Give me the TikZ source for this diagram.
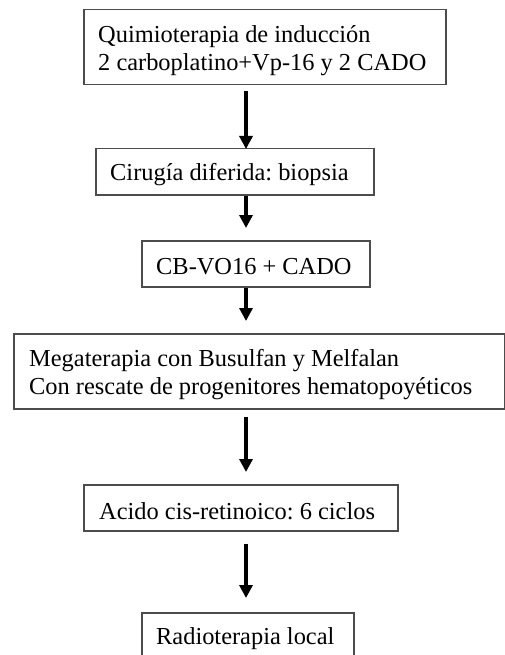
\documentclass[tikz,border=0pt]{standalone}
\usepackage{fontspec}
\setmainfont{Liberation Serif}
\usetikzlibrary{arrows.meta}
\frenchspacing
\begin{document}
\begin{tikzpicture}[x=1pt,y=-1pt,
  stepbox/.style={draw=black!70, line width=1.5pt, anchor=north west, inner sep=0pt},
  steptext/.style={anchor=west, inner sep=0pt, align=left, yshift=-3pt,
    font=\fontsize{24.4pt}{28pt}\selectfont},
  arr/.style={line width=3.6pt, -{Triangle[width=13pt,length=13pt]}}
]
\clip (0,0) rectangle (505,655);
\useasboundingbox (0,0) rectangle (505,655);
\fill[white] (0,0) rectangle (505,655);
\coordinate (ax) at (246,0);
\node[stepbox, minimum width=362pt, minimum height=75pt] (b1) at (83,9) {};
\node[steptext] (t1) at ([xshift=15pt]b1.west) {Quimioterapia de inducción\\2 carboplatino+Vp-16 y 2 CADO};
\node[stepbox, minimum width=278pt, minimum height=46pt] (b2) at (95,148) {};
\node[steptext] (t2) at ([xshift=15pt]b2.west) {Cirugía diferida: biopsia};
\node[stepbox, minimum width=228pt, minimum height=46pt] (b3) at (141,240) {};
\node[steptext] (t3) at ([xshift=15pt]b3.west) {CB-VO16 + CADO};
\node[stepbox, minimum width=491pt, minimum height=75pt] (b4) at (13,333) {};
\node[steptext] (t4) at ([xshift=16pt]b4.west) {Megaterapia con Busulfan y Melfalan\\Con rescate de progenitores hematopoyéticos};
\node[stepbox, minimum width=314pt, minimum height=46pt] (b5) at (83,484) {};
\node[steptext] (t5) at ([xshift=16pt]b5.west) {Acido cis-retinoico: 6 ciclos};
\node[stepbox, minimum width=212pt, minimum height=46pt] (b6) at (141,612) {};
\node[steptext] (t6) at ([xshift=15pt]b6.west) {Radioterapia local};
\draw[arr] ([yshift=-6pt]b1.south -| ax) -- ([yshift=-1pt]b2.north -| ax);
\draw[arr] (b2.south -| ax) -- ([yshift=12pt]b3.north -| ax);
\draw[arr] (b3.south -| ax) -- ([yshift=12pt]b4.north -| ax);
\draw[arr] ([yshift=-7pt]b4.south -| ax) -- ([yshift=12pt]b5.north -| ax);
\draw[arr] ([yshift=-12pt]b5.south -| ax) -- ([yshift=14pt]b6.north -| ax);
\end{tikzpicture}
\end{document}
